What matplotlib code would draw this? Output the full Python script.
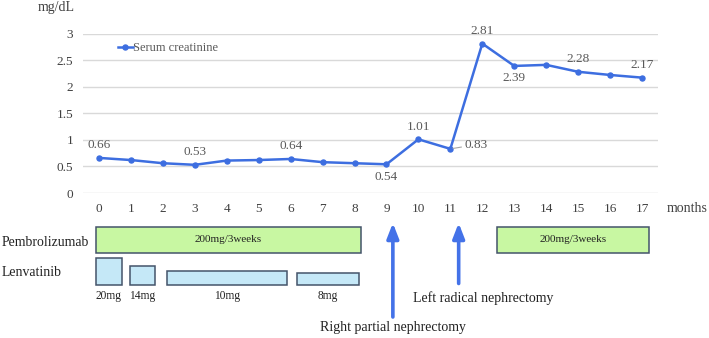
import matplotlib
matplotlib.use("Agg")
import matplotlib.pyplot as plt
from matplotlib.patches import Rectangle

plt.rcParams['font.family'] = ['Liberation Serif', 'DejaVu Serif']

months = list(range(18))
creatinine = [0.66, 0.62, 0.56, 0.53, 0.61, 0.62, 0.64, 0.58, 0.56, 0.54,
              1.01, 0.83, 2.81, 2.39, 2.41, 2.28, 2.22, 2.17]
yticks = [0, 0.5, 1, 1.5, 2, 2.5, 3]
ytick_labels = ['0', '0.5', '1', '1.5', '2', '2.5', '3']
labels_above = [0, 3, 6, 10, 12, 15, 17]
labels_below = [9, 13]
label_side = [11]

pembro_periods = [(-0.10, 8.19), (12.45, 17.23)]
pembro_text = "200mg/3weeks"
lenva_starts = [-0.10, 0.97, 2.14, 6.19]
lenva_ends = [0.72, 1.74, 5.88, 8.15]
lenva_doses = [20, 14, 10, 8]
surgery_month = [9.20, 11.26]
surgery_names = ["Right partial nephrectomy", "Left radical nephrectomy"]

W, H = 709, 338
fig = plt.figure(figsize=(W / 100, H / 100), dpi=100)

line_col = '#3d6ee0'
txt_col = '#404040'
lab_col = '#595959'

# main chart
ax = fig.add_axes([83 / W, 1 - 193 / H, (658 - 83) / W, (193 - 33.5) / H])
ax.set_xlim(-0.5, 17.5)
ax.set_ylim(0, 3)
for y in yticks:
    ax.axhline(y, color='#d9d9d9', lw=1.0, zorder=0)
ax.plot(months, creatinine, color=line_col, lw=1.8, marker='o', ms=3.6,
        label='Serum creatinine', zorder=3)
ax.set_xticks(months)
ax.set_xticklabels([str(m) for m in months])
ax.set_yticks(yticks)
ax.set_yticklabels(ytick_labels)
ax.tick_params(length=0, labelsize=9.5, colors=txt_col, pad=7)
ax.tick_params(axis='y', pad=7)
for s in ax.spines.values():
    s.set_visible(False)

for i in labels_above:
    ax.annotate(f"{creatinine[i]:.2f}", (months[i], creatinine[i]), xytext=(0, 9),
                textcoords='offset points', ha='center', va='center',
                fontsize=9.5, color=lab_col, annotation_clip=False)
for i in labels_below:
    ax.annotate(f"{creatinine[i]:.2f}", (months[i], creatinine[i]), xytext=(0, -9),
                textcoords='offset points', ha='center', va='center',
                fontsize=9.5, color=lab_col)
for i in label_side:
    ax.annotate(f"{creatinine[i]:.2f}", (months[i], creatinine[i]), xytext=(10, 3),
                textcoords='offset points', ha='left', va='center',
                fontsize=9.5, color=lab_col,
                arrowprops=dict(arrowstyle='-', color='#a6a6a6', lw=0.8,
                                shrinkA=0, shrinkB=2))

leg = ax.legend(loc='upper left', bbox_to_anchor=(0.06, 0.945), frameon=False,
                fontsize=9, handlelength=1.2, handletextpad=0.05,
                borderaxespad=0, borderpad=0)
for t in leg.get_texts():
    t.set_color(lab_col)

fig.text(38 / W, 1 - 8 / H, 'mg/dL', fontsize=10, color=txt_col, va='center', ha='left')
fig.text(667 / W, 1 - 208 / H, 'months', fontsize=10, color=txt_col, va='center', ha='left')

# lower treatment panel (y in pixel-like units, inverted)
ax2 = fig.add_axes([83 / W, 0, (658 - 83) / W, (H - 215) / H])
ax2.set_xlim(-0.5, 17.5)
ax2.set_ylim(H, 215)
ax2.axis('off')

edge = '#44546a'
for (a, b) in pembro_periods:
    ax2.add_patch(Rectangle((a, 227), b - a, 25.5, facecolor='#c8f7a2',
                            edgecolor=edge, lw=1.1))
    ax2.text((a + b) / 2, 239.7, pembro_text, ha='center', va='center',
             fontsize=8, color='#222222')

base = 284.5
for a, b, d in zip(lenva_starts, lenva_ends, lenva_doses):
    h = d * 1.35 if d > 8 else 11.5
    ax2.add_patch(Rectangle((a, base - h), b - a, h, facecolor='#c5e8f7',
                            edgecolor=edge, lw=1.1))
    ax2.text((a + b) / 2, 296, f"{d}mg", ha='center', va='center',
             fontsize=8.3, color='#222222')

fig.text(2 / W, 1 - 242 / H, 'Pembrolizumab', fontsize=9.9, color='#222222',
         va='center', ha='left')
fig.text(2 / W, 1 - 272 / H, 'Lenvatinib', fontsize=9.9, color='#222222',
         va='center', ha='left')

arrow_col = '#4472e8'
arrow_bottoms = [317, 283.5]
for xm, yb in zip(surgery_month, arrow_bottoms):
    ax2.annotate('', xy=(xm, 223), xytext=(xm, yb),
                 arrowprops=dict(arrowstyle='-|>,head_length=0.9,head_width=0.35',
                                 color=arrow_col, lw=2.6, shrinkA=0, shrinkB=0))

ax2.text(surgery_month[0], 328, surgery_names[0], ha='center', va='center',
         fontsize=10, color='#222222')
ax2.text(surgery_month[1] - 1.44, 298, surgery_names[1], ha='left', va='center',
         fontsize=10, color='#222222')

fig.savefig('out.png', dpi=100, facecolor='white')
